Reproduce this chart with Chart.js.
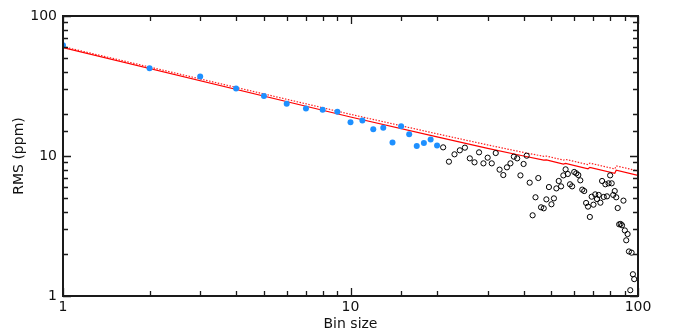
<!DOCTYPE html>
<html>
<head>
<meta charset="utf-8">
<script src="https://cdn.jsdelivr.net/npm/chart.js@4.4.1/dist/chart.umd.min.js"></script>
<style>
  body { margin: 0; background: #fff; }
  #wrap { width: 676px; height: 333px; position: relative; }
</style>
</head>
<body>
<div id="wrap"><canvas id="rmsChart"></canvas></div>
<script>
  // bins 1..20 (filled blue)
  const binsBlue = [1, 2, 3, 4, 5, 6, 7, 8, 9, 10, 11, 12, 13, 14, 15, 16, 17, 18, 19, 20];
  const rmsBlue = [61.8, 42.3, 36.9, 30.4, 26.8, 23.6, 21.8, 21.4, 20.7, 17.4,
                   17.9, 15.5, 15.9, 12.5, 16.3, 14.3, 11.8, 12.4, 13.1, 11.9];

  // bins 21..97 (open circles)
  const binsOpen = [21, 22, 23, 24, 25, 26, 27, 28, 29, 30, 31, 32, 33, 34, 35, 36, 37, 38, 39, 40,
                    41, 42, 43, 44, 45, 46, 47, 48, 49, 50, 51, 52, 53, 54, 55, 56, 57, 58, 59, 60,
                    61, 62, 63, 64, 65, 66, 67, 68, 69, 70, 71, 72, 73, 74, 75, 76, 77, 78, 79, 80,
                    81, 82, 83, 84, 85, 86, 87, 88, 89, 90, 91, 92, 93, 94, 95, 96, 97];
  const rmsOpen = [11.53, 9.11, 10.28, 10.98, 11.47, 9.62, 9.01, 10.62, 8.86, 9.73,
                   8.86, 10.50, 7.99, 7.31, 8.30, 8.86, 9.89, 9.62, 7.27, 8.77,
                   10.05, 6.45, 3.77, 5.07, 6.96, 4.30, 4.23, 4.90, 6.00, 4.52,
                   4.98, 5.87, 6.63, 6.07, 7.27, 8.03, 7.44, 6.28, 6.07, 7.69,
                   7.52, 7.31, 6.70, 5.75, 5.62, 4.62, 4.35, 3.67, 5.12, 4.49,
                   5.32, 4.93, 5.27, 4.64, 6.63, 5.10, 6.28, 5.15, 6.38, 7.27,
                   6.38, 5.27, 5.62, 5.07, 4.25, 3.25, 3.27, 3.20, 4.80, 2.94,
                   2.50, 2.77, 2.08, 1.10, 2.04, 1.43, 1.32];

  // expected-noise lines (with the small steps)
  const fitBins = [1, 10, 20, 30, 40, 47, 48, 55, 56, 67, 68, 83, 84, 100];
  const fitSolid = [59.4, 19.0, 13.7, 11.35, 10.0, 9.34, 9.38, 8.76, 8.86, 8.10, 8.30, 7.52, 7.92, 7.26];
  const fitDotted = [60.4, 19.85, 14.4, 12.0, 10.6, 9.95, 9.99, 9.35, 9.46, 8.68, 8.9, 8.08, 8.5, 7.82];

  const decadeTicks = [1, 10, 100];

  function pts(xs, ys) {
    return xs.map((v, i) => ({x: v, y: ys[i]}));
  }

  // frame with inward ticks on all four sides
  const frameTicks = {
    id: 'frameTicks',
    afterDatasetsDraw(chart) {
      const {ctx, chartArea: a, scales} = chart;
      const isMajor = v => decadeTicks.includes(v);
      ctx.save();
      ctx.strokeStyle = '#1a1a1a';
      ctx.lineWidth = 1.3;
      ctx.beginPath();
      scales.x.ticks.forEach(t => {
        const px = Math.round(scales.x.getPixelForValue(t.value)) + 0.5;
        const len = isMajor(t.value) ? 8 : 5;
        ctx.moveTo(px, a.bottom); ctx.lineTo(px, a.bottom - len);
        ctx.moveTo(px, a.top); ctx.lineTo(px, a.top + len);
      });
      scales.y.ticks.forEach(t => {
        const py = Math.round(scales.y.getPixelForValue(t.value)) + 0.5;
        const len = isMajor(t.value) ? 8 : 5;
        ctx.moveTo(a.left, py); ctx.lineTo(a.left + len, py);
        ctx.moveTo(a.right, py); ctx.lineTo(a.right - len, py);
      });
      ctx.stroke();
      ctx.lineWidth = 2;
      ctx.strokeRect(a.left, a.top, a.right - a.left, a.bottom - a.top);
      ctx.restore();
    }
  };

  const tickFont = {family: 'DejaVu Sans', size: 14};
  const titleFont = {family: 'DejaVu Sans', size: 14};

  const config = {
    type: 'scatter',
    data: {
      datasets: [
        {
          label: 'bins 1-20',
          data: pts(binsBlue, rmsBlue),
          backgroundColor: '#1e90ff',
          borderColor: '#1e90ff',
          pointRadius: 3,
          borderWidth: 0
        },
        {
          label: 'bins 21-97',
          data: pts(binsOpen, rmsOpen),
          backgroundColor: 'rgba(0,0,0,0)',
          borderColor: '#000',
          pointRadius: 2.6,
          borderWidth: 1
        },
        {
          label: 'expected',
          data: pts(fitBins, fitSolid),
          showLine: true,
          borderColor: '#ff0000',
          borderWidth: 1.2,
          pointRadius: 0
        },
        {
          label: 'expected (dotted)',
          data: pts(fitBins, fitDotted),
          showLine: true,
          borderColor: '#ff2020',
          borderWidth: 1.2,
          borderDash: [1.5, 1.5],
          pointRadius: 0
        }
      ]
    },
    options: {
      responsive: true,
      maintainAspectRatio: false,
      animation: false,
      layout: {padding: {top: 16, right: 38, left: 0, bottom: 0}},
      plugins: {
        legend: {display: false},
        tooltip: {enabled: false}
      },
      scales: {
        x: {
          type: 'logarithmic',
          min: 1,
          max: 100,
          grid: {display: false, drawTicks: false},
          border: {display: false},
          afterFit: s => { s.height = 37; },
          ticks: {
            autoSkip: false,
            maxRotation: 0,
            padding: 3,
            color: '#111',
            font: tickFont,
            callback: v => decadeTicks.includes(v) ? String(v) : ''
          },
          title: {display: true, text: 'Bin size', color: '#111', font: titleFont, padding: {top: 0, bottom: 0}}
        },
        y: {
          type: 'logarithmic',
          min: 1,
          max: 100,
          grid: {display: false, drawTicks: false},
          border: {display: false},
          afterFit: s => { s.width = 63; },
          ticks: {
            autoSkip: false,
            padding: 6,
            color: '#111',
            font: tickFont,
            callback: v => decadeTicks.includes(v) ? String(v) : ''
          },
          title: {display: true, text: 'RMS (ppm)', color: '#111', font: titleFont, padding: {top: 11, bottom: 0}}
        }
      }
    },
    plugins: [frameTicks]
  };

  const myChart = new Chart(document.getElementById('rmsChart'), config);
</script>
</body>
</html>
